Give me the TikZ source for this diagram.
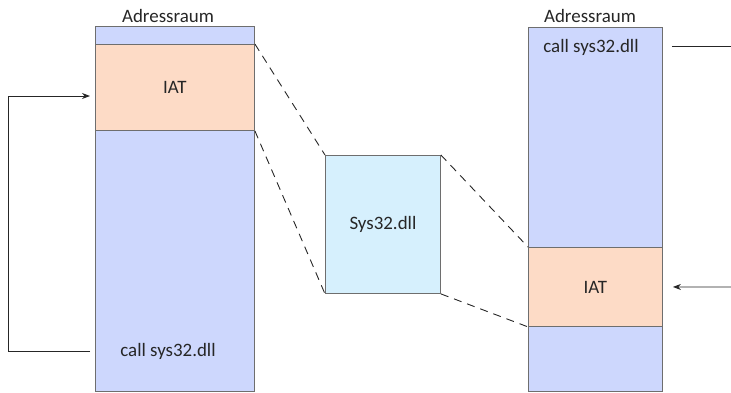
\documentclass[tikz,border=0pt]{standalone}
\usepackage{fontspec}
\setmainfont{Carlito}
\usetikzlibrary{arrows.meta,calc}
\definecolor{spacefill}{RGB}{205,215,253}
\definecolor{iatfill}{RGB}{253,219,198}
\definecolor{dllfill}{RGB}{214,240,253}
\definecolor{boxline}{RGB}{110,110,110}
\tikzset{
  lbl/.style={font=\fontsize{19}{22}\selectfont, text=black!85, inner sep=0pt},
  region/.style={draw=boxline, line width=0.9bp, inner sep=0pt, anchor=north west, font=\fontsize{19}{22}\selectfont, text=black!85},
  link/.style={draw=black!85, line width=0.9bp, dash pattern=on 8bp off 6bp},
  wire/.style={draw=black!85, line width=0.9bp},
  tip/.style={-{Stealth[length=8bp,width=6bp]}}
}
\begin{document}
\begin{tikzpicture}[x=1bp,y=-1bp]
\useasboundingbox (0,0) rectangle (731,392);
\begin{scope}
\clip (0,0) rectangle (731,392);
% left address space
\node[region, fill=spacefill, minimum width=159bp, minimum height=365bp] (lcol) at (95,26) {};
\node[region, fill=iatfill, minimum width=159bp, minimum height=86bp] (liat) at (95,44) {IAT};
\node[lbl] (callL) at (168,351) {call sys32.dll};
\node[lbl] (headL) at (168,16) {Adressraum};
% right address space
\node[region, fill=spacefill, minimum width=134bp, minimum height=364bp] (rcol) at (528,27) {};
\node[region, fill=iatfill, minimum width=134bp, minimum height=79bp] (riat) at (528,247) {IAT};
\node[lbl] (callR) at (591,47) {call sys32.dll};
\node[lbl] (headR) at (590,16) {Adressraum};
% the DLL in between
\node[region, fill=dllfill, minimum width=115bp, minimum height=138bp] (dll) at (325,155) {Sys32.dll};
\end{scope}
% mapping of the DLL into both address spaces
\draw[link] (liat.north east) -- (dll.north west);
\draw[link] (liat.south east) -- (dll.south west);
\draw[link] (dll.north east) -- (riat.north west);
\draw[link] (dll.south east) -- (riat.south west);
% call goes through the import table
\coordinate (callLout) at ($(lcol.west|-callL)+(-5,0)$);
\coordinate (iatLin) at ($(liat.north west)+(-5,52)$);
\draw[wire, tip] (callLout) -- ++(-82,0) |- (iatLin);
% right side connectors leaving the picture
\coordinate (callRout) at (731,46);
\coordinate (iatRin) at (731,287);
\draw[wire] ($(rcol.east|-callRout)+(9,0)$) -- (callRout);
\draw[wire, tip] (iatRin) -- ($(riat.east)+(10,0)$);
\end{tikzpicture}
\end{document}
